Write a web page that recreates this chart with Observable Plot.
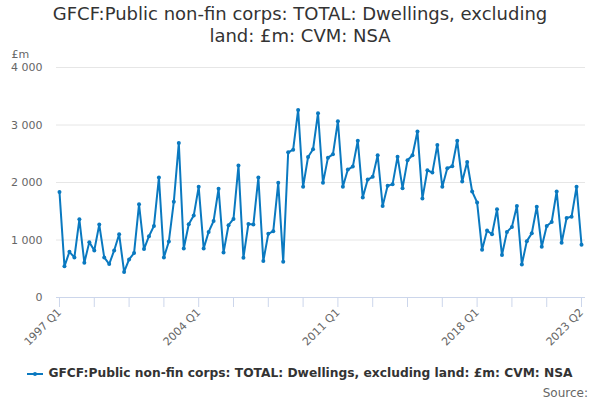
<!DOCTYPE html>
<html>
<head>
<meta charset="utf-8">
<script src="https://cdn.jsdelivr.net/npm/d3@7"></script>
<script src="https://cdn.jsdelivr.net/npm/@observablehq/plot@0.6"></script>
<style>
  html, body { margin: 0; padding: 0; background: #fff; width: 600px; height: 400px; overflow: hidden; }
  body { font-family: "DejaVu Sans", sans-serif; }
  #title { text-align: center; font-size: 18px; line-height: 22px; color: #333; height: 48px; box-sizing: border-box; padding-top: 3px; }
  #legend { height: 26px; text-align: center; font-size: 12.25px; font-weight: bold; color: #333; line-height: 26px; white-space: nowrap; }
  #legend svg { vertical-align: middle; margin-right: 5px; }
  #source { text-align: right; font-size: 12px; color: #666; padding-right: 12px; line-height: 14px; }
</style>
</head>
<body>
<div id="title">GFCF:Public non-fin corps: TOTAL: Dwellings, excluding<br>land: £m: CVM: NSA</div>
<div id="chart"></div>
<div id="legend"></div>
<div id="source">Source:</div>
<script>
const seriesName = "GFCF:Public non-fin corps: TOTAL: Dwellings, excluding land: £m: CVM: NSA";
const startYear = 1997;
const values = [
  1833, 542, 795, 697, 1360, 605, 963, 818, 1268, 697,
  582, 818, 1101, 444, 663, 772, 1620, 842, 1066, 1245,
  2087, 697, 974, 1666, 2686, 853, 1274, 1424, 1925, 853,
  1141, 1331, 1891, 784, 1257, 1366, 2294, 692, 1280, 1268,
  2087, 634, 1107, 1153, 1994, 622, 2525, 2571, 3262, 1925,
  2444, 2577, 3205, 1994, 2432, 2490, 3066, 1925, 2225, 2277,
  2726, 1741, 2052, 2098, 2473, 1591, 1942, 1971, 2450, 1902,
  2386, 2473, 2888, 1723, 2213, 2173, 2651, 1925, 2248, 2283,
  2726, 2017, 2357, 1844, 1654, 830, 1164, 1101, 1533, 738,
  1141, 1228, 1591, 576, 980, 1118, 1579, 882, 1245, 1314,
  1844, 951, 1383, 1406, 1925, 917
];
const yTicks = [0, 1000, 2000, 3000, 4000];
const xTickEvery = 7;
const labelledTicks = [0, 28, 56, 84, 105];

const quarterLabel = i => `${startYear + Math.floor(i / 4)} Q${(i % 4) + 1}`;
const data = values.map((v, i) => ({i, v, label: quarterLabel(i)}));
const xTicks = d3.range(0, values.length, xTickEvery);

const fmt = d3.formatLocale({decimal: ".", thousands: "\u00a0", grouping: [3]}).format(",");
const color = "#0a79c0";

const chart = Plot.plot({
  width: 600,
  height: 312,
  marginTop: 19,
  marginBottom: 63,
  marginLeft: 56,
  marginRight: 15,
  style: {fontFamily: "DejaVu Sans, sans-serif", fontSize: "11px", color: "#666", background: "#fff"},
  x: {domain: [-0.6, values.length - 0.2], type: "linear"},
  y: {domain: [0, 4000]},
  marks: [
    Plot.ruleY(yTicks.filter(d => d > 0), {stroke: "#e6e6e6", strokeWidth: 1}),
    Plot.ruleY([0], {stroke: "#ccd6eb", strokeWidth: 1}),
    Plot.axisY({ticks: yTicks, tickSize: 0, tickPadding: 14, tickFormat: fmt, fill: "#666", fontSize: 11, label: null}),
    Plot.axisX({ticks: xTicks, tickSize: 10, stroke: "#ccd6eb", tickRotate: -45, tickPadding: 3,
      tickFormat: i => labelledTicks.includes(i) ? quarterLabel(i) : "", fill: "#666", fontSize: 11, label: null}),
    Plot.text(["£m"], {frameAnchor: "top-left", dx: -45, dy: -17, textAnchor: "start", fill: "#666", fontSize: 11}),
    Plot.line(data, {x: "i", y: "v", stroke: color, strokeWidth: 2}),
    Plot.dot(data, {x: "i", y: "v", r: 2, fill: color, stroke: null})
  ]
});
document.getElementById("chart").appendChild(chart);

const legend = document.getElementById("legend");
legend.innerHTML = `<svg width="16" height="10"><line x1="0" y1="5" x2="16" y2="5" stroke="${color}" stroke-width="2"/><circle cx="8" cy="5" r="2" fill="${color}"/></svg>`;
legend.appendChild(document.createTextNode(seriesName));
</script>
</body>
</html>
